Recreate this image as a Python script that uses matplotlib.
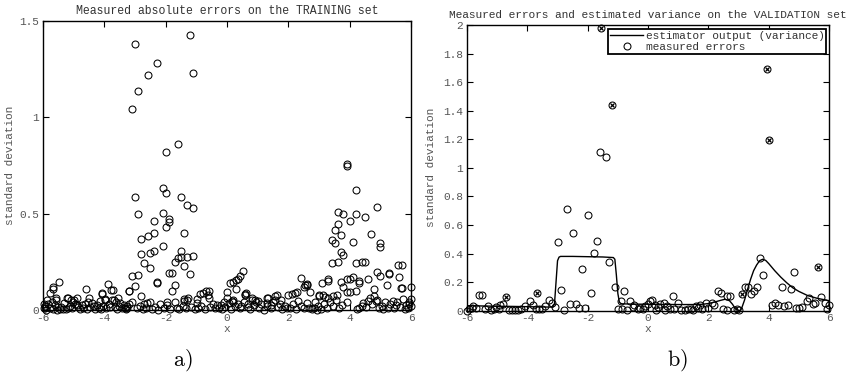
import matplotlib
matplotlib.use('Agg')
from matplotlib import pyplot as plt

plt.rcParams['font.family'] = ['Liberation Mono', 'DejaVu Sans Mono']
plt.rcParams['font.size'] = 8
plt.rcParams['mathtext.fontset'] = 'cm'

# training set: input x and absolute error
train_x = [
    # around the left peak
    -2.99, -1.20, -2.29, -2.59, -1.10, -2.89, -3.10, -1.59, -2.00, -2.10,
    -2.00, -3.00, -1.50, -1.29, -1.10, -2.10, -2.90, -1.89, -1.89, -2.00,
    -2.39, -1.40, -2.39, -2.59, -2.79, -2.10, -2.39, -2.50, -2.79, -1.50,
    -1.10, -1.29, -1.59, -1.50, -1.70, -1.40, -2.69, -2.50, -1.89, -1.79,
    -1.20, -3.10, -2.90, -2.29, -2.29, -1.70, -3.00, -1.79, -3.20, -2.79,
    -1.40, -1.29, -1.70, -2.50, -2.60, -2.19, -2.95, -2.85, -2.75, -2.65,
    -2.45, -2.35, -2.25, -2.05, -1.95, -1.85, -1.62, -1.55, -1.45, -1.35,
    -1.18, -1.05, -1.28, -1.39, -0.98, -0.98, -3.10, -3.25, -1.97, -2.72,
    # far left
    -5.48, -5.66, -5.68, -5.77, -5.88, -5.58, -5.58, -5.95, -5.92, -5.98,
    -5.77, -5.67, -5.55, -5.45, -5.35, -5.25, -5.20, -5.21, -5.08, -4.98,
    -4.90, -5.03, -4.95, -4.79, -4.68, -4.57, -4.46, -4.35, -4.25, -4.60,
    -4.49, -4.09, -4.09, -3.89, -3.79, -3.71, -3.98, -3.74, -3.62, -3.52,
    -3.42, -3.33, -3.25, -3.19, -3.19, -5.85, -5.62, -5.40, -5.12, -4.85,
    -4.72, -4.40, -4.30, -4.18, -4.05, -3.95, -3.85, -3.66, -3.58, -3.48,
    -3.37, -3.28, -4.15, -5.30, -5.05, -5.72, -5.50, -4.88, -4.52, -3.99,
    -3.69, -5.19, -4.10, -3.55, -5.98, -5.90, -4.62, -3.80,
    # middle
    0.51, 0.43, 0.36, 0.28, 0.20, 0.10, 0.30, 0.01, 0.00, 0.60,
    0.60, -0.70, -0.60, -0.79, -0.88, -0.63, -0.58, -0.95, -0.85, -0.72,
    -0.55, -0.45, -0.40, -0.32, -0.25, -0.15, -0.05, 0.05, 0.12, 0.18,
    0.25, 0.35, 0.42, 0.55, 0.68, 0.75, 0.82, 0.88, 0.95, 1.05,
    1.12, 1.20, 1.30, 1.35, 1.42, 1.50, 1.58, 1.65, 1.72, 1.80,
    1.88, 1.95, 0.20, 0.20, 0.61, 0.80, 0.91, 1.29, 1.62, 1.58,
    1.29, -0.20, 0.70, 1.00, 1.45, 1.75, -0.10, 0.45,
    # right peak
    4.20, 4.90, 3.61, 3.80, 4.20, 4.50, 4.01, 3.61, 3.51, 3.71,
    4.69, 3.41, 3.51, 4.11, 5.00, 5.00, 3.71, 3.80, 3.61, 3.41,
    4.21, 4.41, 4.51, 5.59, 5.70, 4.90, 5.00, 5.30, 5.30, 4.11,
    4.01, 3.90, 4.30, 4.30, 5.60, 5.21, 3.30, 3.30, 3.71, 3.80,
    3.92, 4.01, 3.11, 3.01, 3.01, 2.40, 2.61, 4.80, 5.68, 6.00,
    5.95, 5.90, 3.92, 3.90, 3.90, 3.30, 3.19, 3.12, 2.51, 2.29,
    2.21, 2.11, 2.00, 2.54, 2.62, 2.70, 3.47, 3.58, 4.20, 4.60,
    4.90, 5.72, 2.05, 2.15, 2.25, 2.32, 2.42, 2.52, 2.60, 2.68,
    2.78, 2.85, 2.92, 2.98, 3.08, 3.15, 3.25, 3.35, 3.45, 3.55,
    4.25, 4.32, 4.40, 4.45, 4.55, 4.60, 4.65, 4.72, 4.78, 4.85,
    4.95, 5.05, 5.10, 5.15, 5.25, 5.32, 5.40, 5.45, 5.50, 5.55,
    5.65, 5.75, 5.80, 5.85, 6.00, 6.00, 5.92, 3.65, 3.75, 2.88,
]
train_err = [
    1.382, 1.429, 1.283, 1.221, 1.230, 1.136, 1.041, 0.863, 0.818, 0.635,
    0.609, 0.588, 0.588, 0.545, 0.531, 0.505, 0.498, 0.470, 0.458, 0.429,
    0.463, 0.398, 0.398, 0.384, 0.368, 0.332, 0.308, 0.294, 0.290, 0.306,
    0.282, 0.277, 0.268, 0.273, 0.251, 0.228, 0.243, 0.216, 0.190, 0.190,
    0.187, 0.176, 0.180, 0.145, 0.140, 0.131, 0.125, 0.100, 0.100, 0.073,
    0.048, 0.054, 0.043, 0.043, 0.035, 0.031, 0.010, 0.020, 0.003, 0.012,
    0.005, 0.015, 0.002, 0.010, 0.025, 0.005, 0.012, 0.003, 0.020, 0.008,
    0.015, 0.005, 0.062, 0.055, 0.055, 0.035, 0.040, 0.008, 0.040, 0.030,
    0.147, 0.121, 0.111, 0.090, 0.052, 0.064, 0.052, 0.020, 0.010, 0.008,
    0.010, 0.004, 0.002, 0.003, 0.006, 0.003, 0.012, 0.064, 0.052, 0.052,
    0.062, 0.040, 0.032, 0.004, 0.012, 0.006, 0.014, 0.020, 0.028, 0.107,
    0.064, 0.083, 0.090, 0.133, 0.104, 0.104, 0.050, 0.050, 0.040, 0.022,
    0.012, 0.012, 0.020, 0.030, 0.099, 0.030, 0.025, 0.018, 0.020, 0.015,
    0.028, 0.035, 0.005, 0.012, 0.020, 0.008, 0.030, 0.015, 0.005, 0.035,
    0.028, 0.005, 0.045, 0.035, 0.008, 0.040, 0.015, 0.025, 0.040, 0.056,
    0.052, 0.060, 0.005, 0.060, 0.030, 0.000, 0.030, 0.018,
    0.204, 0.176, 0.159, 0.154, 0.145, 0.142, 0.109, 0.092, 0.060, 0.083,
    0.076, 0.100, 0.100, 0.087, 0.081, 0.078, 0.064, 0.010, 0.020, 0.005,
    0.015, 0.030, 0.008, 0.025, 0.012, 0.004, 0.018, 0.035, 0.006, 0.045,
    0.020, 0.030, 0.010, 0.040, 0.015, 0.005, 0.060, 0.025, 0.040, 0.012,
    0.030, 0.002, 0.020, 0.060, 0.008, 0.040, 0.075, 0.015, 0.030, 0.005,
    0.020, 0.010, 0.054, 0.043, 0.087, 0.054, 0.054, 0.064, 0.080, 0.052,
    0.035, 0.028, 0.030, 0.045, 0.025, 0.050, 0.040, 0.022,
    0.623, 0.533, 0.509, 0.500, 0.500, 0.481, 0.462, 0.448, 0.413, 0.389,
    0.393, 0.365, 0.346, 0.355, 0.346, 0.329, 0.303, 0.285, 0.247, 0.245,
    0.245, 0.251, 0.251, 0.233, 0.233, 0.199, 0.176, 0.192, 0.185, 0.173,
    0.159, 0.159, 0.150, 0.140, 0.170, 0.130, 0.160, 0.150, 0.144, 0.120,
    0.095, 0.095, 0.142, 0.079, 0.072, 0.164, 0.130, 0.107, 0.112, 0.117,
    0.040, 0.010, 0.043, 0.758, 0.749, 0.061, 0.069, 0.078, 0.118, 0.095,
    0.090, 0.083, 0.078, 0.130, 0.133, 0.096, 0.071, 0.080, 0.100, 0.160,
    0.054, 0.112, 0.010, 0.030, 0.005, 0.045, 0.020, 0.008, 0.035, 0.012,
    0.003, 0.010, 0.002, 0.020, 0.005, 0.030, 0.012, 0.040, 0.020, 0.050,
    0.005, 0.012, 0.020, 0.035, 0.015, 0.048, 0.060, 0.030, 0.075, 0.045,
    0.010, 0.020, 0.003, 0.040, 0.012, 0.030, 0.048, 0.008, 0.025, 0.040,
    0.015, 0.055, 0.005, 0.025, 0.055, 0.020, 0.030, 0.010, 0.025, 0.040,
]

# validation set: input x and measured error
valid_x = [
    -1.55, -1.19, -1.59, -1.39, 3.93, 4.02, -2.70, -2.00, -2.50, -1.69,
    -3.00, -1.79, -1.30, -2.20, -1.09, -2.89, -0.79, -1.89, -0.90, -0.59,
    -2.60, -2.40, -2.30, -2.10, -2.80, -3.10, -3.20, -3.29, -3.40, -3.69,
    -3.90, -3.80, -4.09, -4.71, -4.81, -4.90, -5.03, -5.10, -5.30, -5.41,
    -5.61, -5.50, -5.80, -5.70, -5.94, -6.00, -4.60, -4.50, -4.40, -4.30,
    -3.70, -3.60, -0.98, -0.69, -0.49, -0.33, -0.16, 0.00, 0.05, -4.20,
    3.71, 3.82, 5.62, 4.84, 4.43, 4.73, 3.62, 3.21, 3.32, 3.13,
    3.41, 3.52, 2.31, 2.42, 2.61, 2.72, 0.82, 0.12, 0.52, 1.00,
    1.91, 2.11, 2.20, -0.10, 0.22, 0.33, 0.63, 0.74, 0.86, 0.55,
    0.25, 1.10, 1.22, 1.32, 1.42, 1.50, 1.58, 1.65, 1.72, 1.80,
    2.00, 2.61, 2.86, 2.94, 3.00, 4.10, 4.21, 4.32, 4.51, 4.63,
    4.90, 5.00, 5.10, 5.26, 5.35, 5.46, 5.53, 5.73, 5.87, 5.94,
    6.00, -0.45, -0.25, 0.40, -5.85, -5.20, -4.95, -3.50, 2.50, -0.85,
]
valid_err = [
    1.980, 1.443, 1.113, 1.074, 1.690, 1.195, 0.712, 0.668, 0.546, 0.488,
    0.479, 0.402, 0.341, 0.290, 0.164, 0.143, 0.136, 0.122, 0.070, 0.070,
    0.045, 0.045, 0.017, 0.017, 0.005, 0.028, 0.052, 0.075, 0.035, 0.122,
    0.070, 0.040, 0.030, 0.096, 0.050, 0.043, 0.025, 0.010, 0.030, 0.012,
    0.108, 0.108, 0.035, 0.016, 0.010, 0.000, 0.005, 0.005, 0.005, 0.006,
    0.010, 0.012, 0.010, 0.008, 0.025, 0.010, 0.010, 0.045, 0.070, 0.010,
    0.371, 0.250, 0.304, 0.273, 0.166, 0.150, 0.168, 0.164, 0.164, 0.117,
    0.117, 0.140, 0.140, 0.126, 0.103, 0.103, 0.103, 0.075, 0.056, 0.056,
    0.056, 0.056, 0.040, 0.030, 0.040, 0.025, 0.030, 0.012, 0.015, 0.008,
    0.005, 0.008, 0.005, 0.010, 0.015, 0.008, 0.030, 0.020, 0.040, 0.010,
    0.020, 0.008, 0.008, 0.012, 0.005, 0.040, 0.052, 0.040, 0.033, 0.040,
    0.017, 0.017, 0.028, 0.070, 0.087, 0.047, 0.056, 0.094, 0.056, 0.010,
    0.040, 0.040, 0.020, 0.050, 0.020, 0.005, 0.015, 0.010, 0.010, 0.010,
]

# points marked with an extra cross
flag_x = [-1.55, -1.19, 3.93, 4.02, 5.62, -4.71, -3.69, 3.13]
flag_err = [1.980, 1.443, 1.690, 1.195, 0.304, 0.096, 0.122, 0.117]

# estimator output over x
est_x = [-6.0, -5.5, -5.0, -4.5, -4.0, -3.5, -3.15, -3.1, -3.05, -3.0,
         -2.95, -2.9, -2.5, -2.0, -1.5, -1.15, -1.1, -1.05, -1.0, -0.95,
         -0.9, -0.85, -0.5, 0.0, 0.5, 1.0, 1.5, 1.8, 2.0, 2.2,
         2.4, 2.55, 2.7, 2.8, 2.9, 3.0, 3.05, 3.1, 3.2, 3.3,
         3.4, 3.5, 3.6, 3.7, 3.8, 3.9, 4.0, 4.2, 4.4, 4.6,
         4.8, 5.0, 5.3, 5.6, 6.0]
est_var = [0.035, 0.033, 0.031, 0.030, 0.028, 0.026, 0.025, 0.05, 0.20, 0.35,
           0.375, 0.38, 0.38, 0.378, 0.376, 0.372, 0.36, 0.25, 0.12, 0.06,
           0.05, 0.048, 0.046, 0.045, 0.044, 0.043, 0.043, 0.045, 0.050, 0.060,
           0.072, 0.080, 0.070, 0.045, 0.012, 0.002, 0.002, 0.015, 0.075, 0.150,
           0.220, 0.280, 0.320, 0.350, 0.360, 0.352, 0.330, 0.280, 0.235, 0.195,
           0.160, 0.135, 0.105, 0.087, 0.070]

x_ticks = [-6, -4, -2, 0, 2, 4, 6]
train_yticks = [0, 0.5, 1, 1.5]
train_ylabels = ['0', '0.5', '1', '1.5']
valid_yticks = [0, 0.2, 0.4, 0.6, 0.8, 1, 1.2, 1.4, 1.6, 1.8, 2]
valid_ylabels = ['0', '0.2', '0.4', '0.6', '0.8', '1', '1.2', '1.4', '1.6', '1.8', '2']

txt = '#333333'
ticktxt = '#555555'
circ = dict(ls='none', marker='o', ms=5, mfc='none', mec='k', mew=0.75, clip_on=False)


def style(ax, yticks, ylabels, ymax):
    ax.set_xlim(-6, 6)
    ax.set_ylim(0, ymax)
    ax.set_xticks(x_ticks)
    ax.set_xticklabels([str(t) for t in x_ticks])
    ax.set_yticks(yticks)
    ax.set_yticklabels(ylabels)
    ax.tick_params(direction='in', length=4, width=0.8, top=True, right=True,
                   colors='k', labelcolor=ticktxt, labelsize=8)
    ax.tick_params(axis='x', pad=2)
    ax.tick_params(axis='y', pad=3)
    for s in ax.spines.values():
        s.set_linewidth(1.0)
    ax.set_xlabel('x', color=ticktxt)
    ax.set_ylabel('standard deviation', color=ticktxt)


fig = plt.figure(figsize=(8.56, 3.76), dpi=100)

ax1 = fig.add_axes([0.0502, 0.1755, 0.4299, 0.7686])
ax1.plot(train_x, train_err, **circ)
style(ax1, train_yticks, train_ylabels, 1.5)
ax1.set_title('Measured absolute errors on the TRAINING set', color=txt,
              fontsize=8.3, pad=5.4)
ax1.xaxis.set_label_coords(0.5, -0.048)
ax1.yaxis.set_label_coords(-0.076, 0.5)

ax2 = fig.add_axes([0.5456, 0.1737, 0.4229, 0.7598])
ax2.plot(est_x, est_var, color='k', lw=1.0, label='estimator output (variance)')
ax2.plot(valid_x, valid_err, label='measured errors', **circ)
ax2.plot(flag_x, flag_err, ls='none', marker='x', ms=3.2, mec='k', mew=0.9,
         clip_on=False)
style(ax2, valid_yticks, valid_ylabels, 2)
ax2.set_title('Measured errors and estimated variance on the VALIDATION set',
              color=txt, fontsize=8, pad=4.7)
ax2.xaxis.set_label_coords(0.5, -0.048)
ax2.yaxis.set_label_coords(-0.086, 0.5)

leg = ax2.legend(loc='upper right', bbox_to_anchor=(0.992, 0.985), borderaxespad=0,
                 fancybox=False, edgecolor='k', framealpha=1, borderpad=0.15,
                 labelspacing=0.1, handlelength=3.0, handletextpad=0.2,
                 prop={'size': 8})
leg.get_frame().set_linewidth(1.3)
for t in leg.get_texts():
    t.set_color(txt)

fig.text(183 / 856, 1 - 360 / 376, r'$\mathrm{a)}$', fontsize=16,
         ha='center', va='center')
fig.text(677 / 856, 1 - 360 / 376, r'$\mathrm{b)}$', fontsize=16,
         ha='center', va='center')

fig.savefig('out.png', dpi=100)
